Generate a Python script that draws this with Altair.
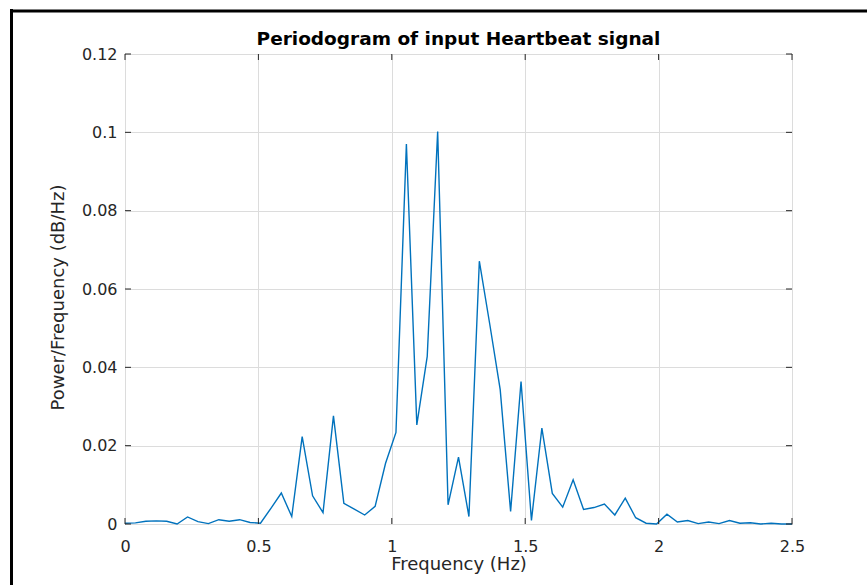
import altair as alt
import pandas as pd

# Frequency bins (Hz) and periodogram values
freq = [0.0, 0.0391, 0.0781, 0.1172, 0.1563, 0.1953, 0.2344, 0.2734, 0.3125, 0.3516,
        0.3906, 0.4297, 0.4688, 0.5078, 0.5469, 0.5859, 0.625, 0.6641, 0.7031, 0.7422,
        0.7813, 0.8203, 0.8594, 0.8984, 0.9375, 0.9766, 1.0156, 1.0547, 1.0938, 1.1328,
        1.1719, 1.2109, 1.25, 1.2891, 1.3281, 1.3672, 1.4063, 1.4453, 1.4844, 1.5234,
        1.5625, 1.6016, 1.6406, 1.6797, 1.7188, 1.7578, 1.7969, 1.8359, 1.875, 1.9141,
        1.9531, 1.9922, 2.0313, 2.0703, 2.1094, 2.1484, 2.1875, 2.2266, 2.2656, 2.3047,
        2.3438, 2.3828, 2.4219, 2.4609, 2.5]
power = [0.0002, 0.0003, 0.0007, 0.0008, 0.0007, 0.0000, 0.0018, 0.0006, 0.0001, 0.0011,
         0.0007, 0.0011, 0.0004, 0.0002, 0.0040, 0.0079, 0.0019, 0.0223, 0.0072, 0.0029,
         0.0276, 0.0053, 0.0038, 0.0023, 0.0045, 0.0155, 0.0234, 0.0970, 0.0253, 0.0428,
         0.1002, 0.0049, 0.0171, 0.0019, 0.0671, 0.0510, 0.0343, 0.0032, 0.0364, 0.0009,
         0.0245, 0.0078, 0.0043, 0.0113, 0.0037, 0.0042, 0.0051, 0.0023, 0.0066, 0.0016,
         0.0002, 0.0000, 0.0025, 0.0005, 0.0009, 0.0001, 0.0005, 0.0001, 0.0009, 0.0002,
         0.0003, 0.0000, 0.0002, 0.0000, 0.0000]

x_ticks = [0, 0.5, 1, 1.5, 2, 2.5]
y_ticks = [0, 0.02, 0.04, 0.06, 0.08, 0.1, 0.12]

TITLE = "Periodogram of input Heartbeat signal"
X_TITLE = "Frequency (Hz)"
Y_TITLE = "Power/Frequency (dB/Hz)"

W, H = 667, 470
FONT = "DejaVu Sans"
AX = "#262626"

df = pd.DataFrame({"f": freq, "p": power})
xt = pd.DataFrame({"f": x_ticks})
yt = pd.DataFrame({"p": y_ticks})
one = pd.DataFrame({"t": [TITLE]})

xscale = alt.Scale(domain=[0, 2.5], nice=False, zero=False)
yscale = alt.Scale(domain=[0, 0.12], nice=False)

x_axis = alt.Axis(values=x_ticks, labelExpr="format(datum.value, '.1~f')", title=X_TITLE,
                  grid=True, ticks=False, tickSize=0, domain=False, labelFlush=False,
                  labelPadding=14, titleY=45, titleBaseline="alphabetic", titleFontSize=18)
y_axis = alt.Axis(values=y_ticks, labelExpr="format(datum.value, '.2~f')", title=Y_TITLE,
                  grid=True, ticks=False, tickSize=0, domain=False, labelFlush=False,
                  labelPadding=8, titleX=-62, titleY=243, titleFontSize=18,
                  titleBaseline="alphabetic", titleAngle=270)

X = alt.X("f:Q", scale=xscale, axis=x_axis)
Y = alt.Y("p:Q", scale=yscale, axis=y_axis)

line = alt.Chart(df).mark_line(color="#0072BD", strokeWidth=1.4).encode(x=X, y=Y)

tick_bottom = alt.Chart(xt).mark_rule(color=AX, strokeWidth=1).encode(
    x=X, y=alt.value(H), y2=alt.value(H - 6))
tick_top = alt.Chart(xt).mark_rule(color=AX, strokeWidth=1).encode(
    x=X, y=alt.value(0), y2=alt.value(6))
tick_left = alt.Chart(yt).mark_rule(color=AX, strokeWidth=1).encode(
    y=Y, x=alt.value(0), x2=alt.value(6))
tick_right = alt.Chart(yt).mark_rule(color=AX, strokeWidth=1).encode(
    y=Y, x=alt.value(W), x2=alt.value(W - 6))

frame_left = alt.Chart(one).mark_rule(color="black", strokeWidth=3).encode(
    x=alt.value(-113.5), y=alt.value(-45), y2=alt.value(540))
frame_top = alt.Chart(one).mark_rule(color="black", strokeWidth=3).encode(
    x=alt.value(-115), x2=alt.value(760), y=alt.value(-43))

title = alt.Chart(one).mark_text(
    font=FONT, fontSize=18.5, fontWeight="bold", color="black",
    align="center", baseline="alphabetic"
).encode(text="t:N", x=alt.value(W / 2), y=alt.value(-9))

chart = alt.layer(
    line, tick_bottom, tick_top, tick_left, tick_right, frame_left, frame_top, title
).properties(
    width=W, height=H,
    padding={"left": 125, "top": 54, "right": 75, "bottom": 61},
    autosize=alt.AutoSizeParams(type="none"),
    background="white",
).configure_view(
    stroke=AX, strokeWidth=1
).configure_axis(
    labelFont=FONT, labelFontSize=16, labelColor=AX,
    titleFont=FONT, titleColor=AX, titleFontWeight="normal",
    gridColor="#dcdcdc", gridWidth=1,
)

chart.save("out.html", embed_options={"renderer": "svg", "actions": False})
